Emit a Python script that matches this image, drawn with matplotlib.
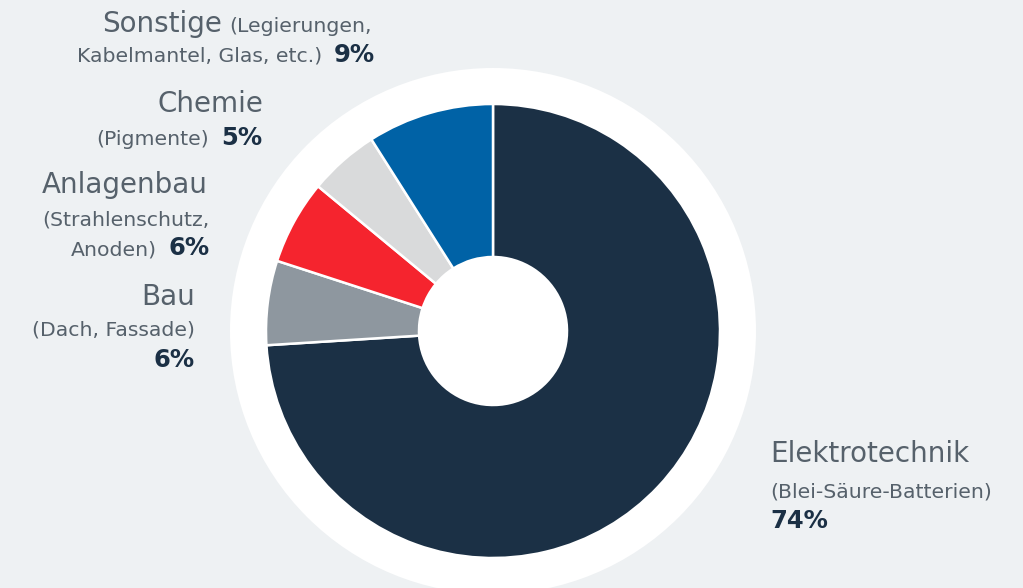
import matplotlib.pyplot as plt
from matplotlib.patches import Circle

# data
categories = ['Elektrotechnik', 'Bau', 'Anlagenbau', 'Chemie', 'Sonstige']
shares = [74, 6, 6, 5, 9]
colors = ['#1b3045', '#8e979f', '#f5242e', '#d9dadb', '#0062a6']

W, H = 1023, 588
BG = '#eef1f3'
GREY = '#56616b'
NAVY = '#1b3045'
BIG, SMALL, PCT = 20, 14.7, 17.5

fig = plt.figure(figsize=(W / 100, H / 100), dpi=100, facecolor=BG)
ax = fig.add_axes([0, 0, 1, 1])
ax.set_facecolor(BG)

cx, cy = 493, H - 331
ax.add_patch(Circle((cx, cy), 263, facecolor='white', edgecolor='none', zorder=0))
ax.pie(shares, colors=colors, startangle=90, counterclock=False,
       radius=227, center=(cx, cy),
       wedgeprops=dict(width=153, edgecolor='white', linewidth=1.8))
ax.set_xlim(0, W)
ax.set_ylim(0, H)
ax.set_aspect('equal')
ax.axis('off')


def y(py):
    return H - py


renderer = fig.canvas.get_renderer()


def right_line(x, py, text, size, pct=None):
    # right aligned line, optional bold percentage at the end
    if pct is not None:
        t = ax.text(x, y(py), pct, ha='right', va='baseline', fontsize=PCT,
                    fontweight='bold', color=NAVY)
        w = t.get_window_extent(renderer).width
        x = x - w - 12
    if text:
        ax.text(x, y(py), text, ha='right', va='baseline', fontsize=size, color=GREY)


# Sonstige
t = ax.text(372, y(32), '(Legierungen,', ha='right', va='baseline', fontsize=SMALL, color=GREY)
w = t.get_window_extent(renderer).width
ax.text(372 - w - 8, y(32), 'Sonstige', ha='right', va='baseline', fontsize=BIG, color=GREY)
right_line(375, 62, 'Kabelmantel, Glas, etc.)', SMALL, '9%')

# Chemie
right_line(263, 112, 'Chemie', BIG)
right_line(262, 145, '(Pigmente)', SMALL, '5%')

# Anlagenbau
right_line(208, 193, 'Anlagenbau', BIG)
right_line(210, 225, '(Strahlenschutz,', SMALL)
right_line(210, 255, 'Anoden)', SMALL, '6%')

# Bau
right_line(195, 305, 'Bau', BIG)
right_line(195, 336, '(Dach, Fassade)', SMALL)
right_line(195, 367, '', SMALL, '6%')

# Elektrotechnik
ax.text(770, y(462), 'Elektrotechnik', ha='left', va='baseline', fontsize=BIG, color=GREY)
ax.text(770, y(497), '(Blei-Säure-Batterien)', ha='left', va='baseline', fontsize=SMALL, color=GREY)
ax.text(770, y(528), '74%', ha='left', va='baseline', fontsize=PCT, fontweight='bold', color=NAVY)

fig.savefig('out.png', dpi=100, facecolor=BG)
